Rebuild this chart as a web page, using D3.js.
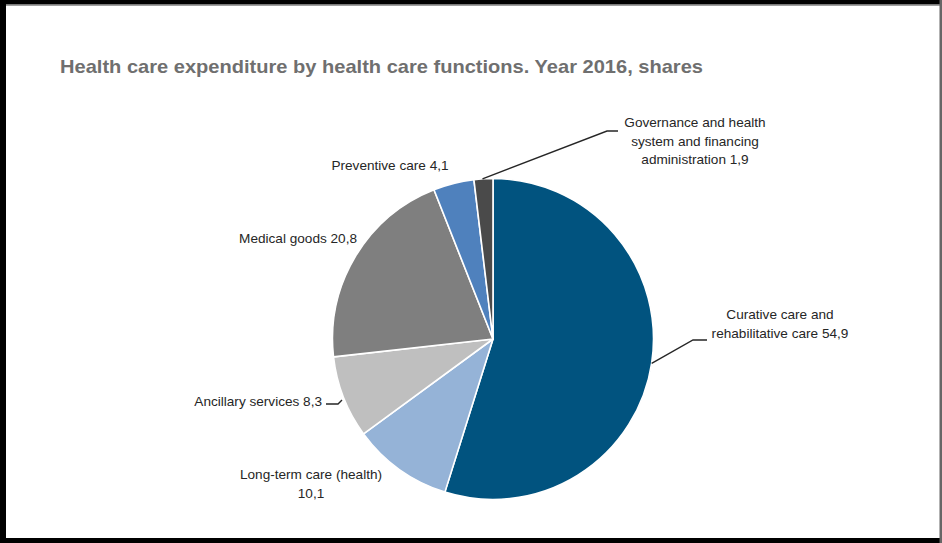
<!DOCTYPE html>
<html>
<head>
<meta charset="utf-8">
<script src="https://cdn.jsdelivr.net/npm/d3@7"></script>
<style>
  html, body { margin: 0; padding: 0; background: #fff; }
  svg { display: block; }
  text { font-family: "Liberation Sans", Arial, sans-serif; }
</style>
</head>
<body>
<svg id="chart" width="942" height="543"></svg>
<script>
// Health care functions, shares of total expenditure, 2016
const categories = [
  "Curative care and rehabilitative care",
  "Long-term care (health)",
  "Ancillary services",
  "Medical goods",
  "Preventive care",
  "Governance and health system and financing administration"
];
const shares = [54.9, 10.1, 8.3, 20.8, 4.1, 1.9];
const labelLines = [
  ["Curative care and", "rehabilitative care 54,9"],
  ["Long-term care (health)", "10,1"],
  ["Ancillary services 8,3"],
  ["Medical goods 20,8"],
  ["Preventive care 4,1"],
  ["Governance and health", "system and financing", "administration 1,9"]
];
const colors = ["#01537f", "#95b3d7", "#bfbfbf", "#7f7f7f", "#4f81bd", "#4a4a4a"];

const svg = d3.select("#chart");
const W = 942, H = 543;

// frame
svg.append("rect").attr("x", 0).attr("y", 0).attr("width", W).attr("height", H).attr("fill", "#fff");
svg.append("rect").attr("x", 0).attr("y", 0).attr("width", W).attr("height", 4.5).attr("fill", "#000");
svg.append("rect").attr("x", 0).attr("y", 4.5).attr("width", W).attr("height", 1.2).attr("fill", "#777");
svg.append("rect").attr("x", 0).attr("y", 0).attr("width", 6).attr("height", H).attr("fill", "#000");
svg.append("rect").attr("x", 0).attr("y", 538).attr("width", W).attr("height", 5).attr("fill", "#000");
svg.append("rect").attr("x", 939.5).attr("y", 0).attr("width", 2.5).attr("height", H).attr("fill", "#666");

// title
svg.append("text")
  .attr("x", 60).attr("y", 73)
  .attr("font-size", 19).attr("font-weight", "bold")
  .attr("fill", "#6f6f6f")
  .attr("textLength", 643).attr("lengthAdjust", "spacingAndGlyphs")
  .text("Health care expenditure by health care functions. Year 2016, shares");

// pie
const cx = 493, cy = 339, R = 160.5;
const pie = d3.pie().sort(null).value(d => d)(shares);
const arc = d3.arc().innerRadius(0).outerRadius(R);
const g = svg.append("g").attr("transform", `translate(${cx},${cy})`);
g.selectAll("path").data(pie).join("path")
  .attr("d", arc)
  .attr("fill", (d, i) => colors[i])
  .attr("stroke", "#fff").attr("stroke-width", 1.6).attr("stroke-linejoin", "round");

// label placement (layout only)
const labelLayout = [
  { x: 780, y: 319, anchor: "middle", leader: { t: 0.5, elbow: [693, 340], end: [707, 340] } },
  { x: 311, y: 479, anchor: "middle" },
  { x: 322, y: 406, anchor: "end", leader: { elbow: [338, 404], end: [326, 404], near: [342, 400] } },
  { x: 357, y: 243, anchor: "end" },
  { x: 390, y: 170, anchor: "middle" },
  { x: 695, y: 127, anchor: "middle", leader: { t: 0.45, elbow: [607, 131], end: [618, 131] } }
];
const lineH = 18.5;
const labels = svg.append("g").attr("fill", "#262626").attr("font-size", 13.6);
labelLines.forEach((lines, i) => {
  const L = labelLayout[i];
  const t = labels.append("text").attr("text-anchor", L.anchor);
  lines.forEach((s, k) => {
    t.append("tspan").attr("x", L.x).attr("y", L.y + k * lineH).text(s);
  });
});

// leader lines from slice edges
const lead = svg.append("g").attr("fill", "none").attr("stroke", "#262626").attr("stroke-width", 1.4);
pie.forEach((d, i) => {
  const L = labelLayout[i];
  if (!L.leader) return;
  let start;
  if (L.leader.near) {
    start = L.leader.near;
  } else {
    const a = d.startAngle + (d.endAngle - d.startAngle) * L.leader.t;
    start = [cx + R * Math.sin(a), cy - R * Math.cos(a)];
  }
  lead.append("polyline")
    .attr("points", [start, L.leader.elbow, L.leader.end].map(p => p.join(",")).join(" "));
});
</script>
</body>
</html>
